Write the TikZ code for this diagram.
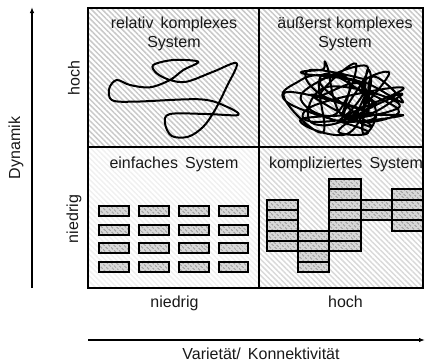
\documentclass[tikz,border=0pt]{standalone}
\usepackage{fontspec}
\setmainfont{Liberation Sans}
\usetikzlibrary{patterns.meta,arrows.meta}

\tikzset{
  lbl/.style={font=\fontsize{16bp}{19bp}\selectfont, inner sep=0pt, align=center, text=black!90},
  frame/.style={line width=2bp, draw=black},
  axisarrow/.style={line width=1.6bp, -{Latex[length=6bp,width=4.5bp]}},
  hatchdark/.style={pattern={Lines[angle=-45,distance=3.8bp,line width=1.5bp]}, pattern color=gray!42},
  hatchmid/.style={pattern={Lines[angle=-45,distance=3.8bp,line width=1.5bp]}, pattern color=gray!30},
  hatchlight/.style={pattern={Lines[angle=-45,distance=3.8bp,line width=1.5bp]}, pattern color=gray!12},
  bar/.style={line width=2bp, draw=black, preaction={fill=gray!30},
    pattern={Lines[angle=-45,distance=3.6bp,line width=1.5bp]}, pattern color=gray!70},
  curve/.style={line width=2bp, line join=round, line cap=round}
}

\begin{document}
\begin{tikzpicture}[x=1bp,y=-1bp]
\useasboundingbox (0,0) rectangle (425,364);

% quadrant backgrounds
\fill[hatchdark] (88,8) rectangle (259,147);
\fill[hatchdark] (259,8) rectangle (423,147);
\fill[hatchlight] (88,147) rectangle (259,288);
\fill[hatchmid] (259,147) rectangle (423,288);

% quadrant frame
\draw[frame] (88,8) rectangle (423,288);
\draw[frame] (88,147) -- (423,147);
\draw[frame] (259,8) -- (259,288);

% quadrant titles
\node[lbl] (trelkompl) at (174,34) {relativ\ \,komplexes\\System};
\node[lbl] (tausskompl) at (345,34) {äußerst komplexes\\System};
\node[lbl] (teinfach) at (174,164) {einfaches\,\ System};
\node[lbl] (tkompliz) at (346,164) {kompliziertes\,\ System};

% simple system: regular array of bars
\foreach \i in {0,...,3}{
  \foreach \j in {0,...,3}{
    \path[bar] ({99.3+39.8*\i},{206+18.7*\j}) rectangle ++(29.6,10);
  }
}

% complicated system: irregular stacks of cells
\def\cw{31.2}
\def\ch{10.35}
\newcommand{\cellstack}[3]{%
  \foreach \r in {#2,...,#3}{
    \path[bar] ({267+\cw*#1},{179+\ch*\r}) rectangle ++(\cw,\ch);
  }}
\cellstack{0}{2}{6}
\cellstack{1}{5}{8}
\cellstack{2}{0}{6}
\cellstack{3}{2}{3}
\cellstack{4}{1}{4}

% relatively complex system: a single looping curve
\draw[curve] plot[smooth cycle, tension=0.55] coordinates {
  (236.7,63.3) (213.3,71.7) (186.7,81.7) (170,80) (156.7,73.3) (153.3,65)
  (173.3,60) (198.3,61.7) (183.3,70) (170,80) (150,87.3) (130,85)
  (116.7,80) (109.3,88.3) (111.7,100) (133.3,101.7) (200,99.3) (226.7,106.7)
  (238.3,115) (206.7,114) (170,114) (165,123.3) (171.7,136) (188.3,136.7)
  (203.3,126.7) (215,110) (226.7,86.7)};

% extremely complex system: dense tangle
\pgfmathsetseed{17}
\xdef\scribble{}
\foreach \k in {1,...,62}{
  \pgfmathsetmacro\ang{360*rnd}
  \pgfmathsetmacro\rad{0.4+0.6*rnd}
  \pgfmathsetmacro\px{346+63*\rad*cos(\ang)}
  \pgfmathsetmacro\py{99+37*\rad*sin(\ang)}
  \xdef\scribble{\scribble (\px,\py)}
}
\edef\drawscribble{\noexpand\draw[curve] plot[smooth, tension=0.75] coordinates {\scribble};}
\drawscribble

% axes
\coordinate (vbot) at (32,288);
\coordinate (vtop) at (32,7);
\draw[axisarrow] (vbot) -- (vtop);
\coordinate (hleft) at (88,340);
\coordinate (hright) at (425,340);
\draw[axisarrow] (hleft) -- (hright);

% axis labels
\node[lbl, rotate=90] (ldyn) at (16,148) {Dynamik};
\node[lbl, rotate=90] (lhoch) at (74,78) {hoch};
\node[lbl, rotate=90] (lniedrig) at (74,219) {niedrig};
\node[lbl] (bniedrig) at (174.5,303) {niedrig};
\node[lbl] (bhoch) at (345.5,302) {hoch};
\node[lbl] (lvar) at (261,354) {Varietät/\ \,Konnektivität};
\end{tikzpicture}
\end{document}
